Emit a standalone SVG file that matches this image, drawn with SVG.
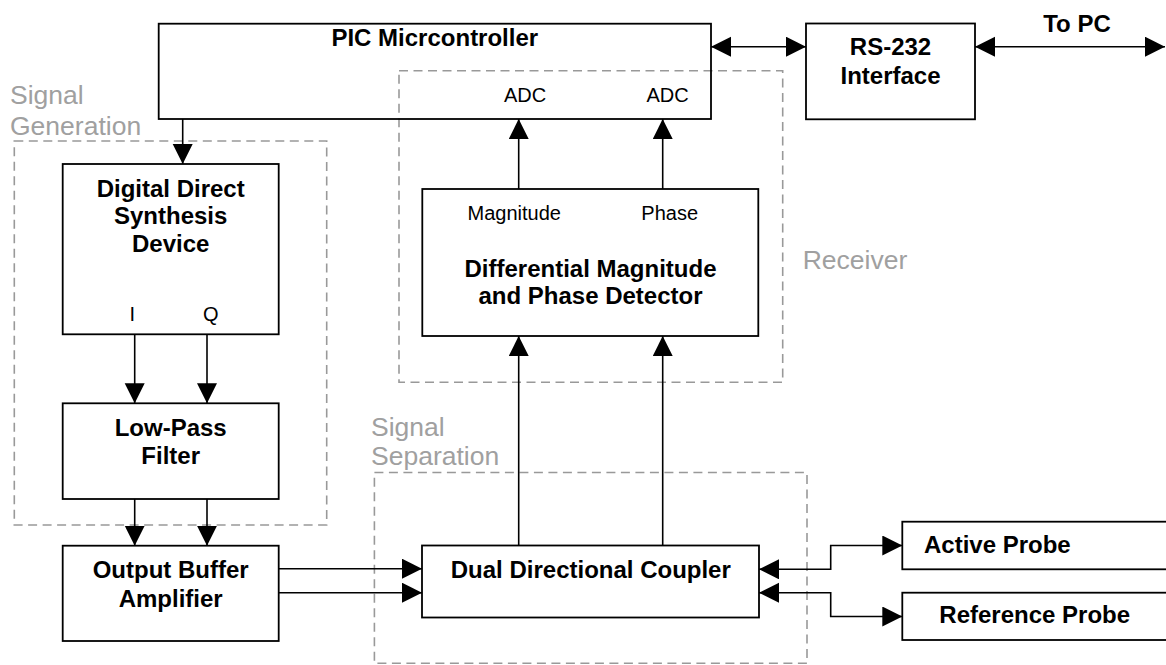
<svg xmlns="http://www.w3.org/2000/svg" width="1166" height="665" viewBox="0 0 1166 665">
  <style>
    .box { fill: none; stroke: #000; stroke-width: 1.8; }
    .region { fill: none; stroke: #999; stroke-width: 1.6; stroke-dasharray: 9 5.5; }
    .wire { fill: none; stroke: #000; stroke-width: 1.6; }
    .arrow { marker-end: url(#head); }
    .both { marker-start: url(#head); marker-end: url(#head); }
    .bold { font-family: "Liberation Sans", Arial, sans-serif; font-weight: bold; font-size: 24px; fill: #000; text-anchor: middle; }
    .bold.left { text-anchor: start; }
    .port { font-family: "Liberation Sans", Arial, sans-serif; font-size: 20px; fill: #000; text-anchor: middle; }
    .area { font-family: "Liberation Sans", Arial, sans-serif; font-size: 26.5px; fill: #a0a0a0; }
  </style>
  <defs>
    <marker id="head" markerUnits="userSpaceOnUse" markerWidth="21" markerHeight="21" refX="20" refY="10" orient="auto-start-reverse">
      <path d="M0,0 L20,10 L0,20 Z" fill="#000"/>
    </marker>
  </defs>

  <rect width="1166" height="665" fill="#fff"/>

  <!-- functional regions -->
  <g id="region-generation">
    <rect class="region" x="14.3" y="141" width="312.4" height="384"/>
    <text class="area" x="10" y="104">Signal</text>
    <text class="area" x="10" y="135">Generation</text>
  </g>
  <g id="region-receiver">
    <rect class="region" x="399" y="70.7" width="383.7" height="311.6"/>
    <text class="area" x="802.7" y="269.3">Receiver</text>
  </g>
  <g id="region-separation">
    <rect class="region" x="374.4" y="472.5" width="432.6" height="190.8"/>
    <text class="area" x="371" y="435.5">Signal</text>
    <text class="area" x="371" y="465">Separation</text>
  </g>

  <!-- connectors -->
  <g id="connectors">
    <line class="wire arrow" x1="182.7" y1="119" x2="182.7" y2="164"/>
    <line class="wire both" x1="711" y1="46.7" x2="806" y2="46.7"/>
    <line class="wire both" x1="975" y1="46.7" x2="1165" y2="46.7"/>
    <line class="wire arrow" x1="134.7" y1="334.3" x2="134.7" y2="403.3"/>
    <line class="wire arrow" x1="207" y1="334.3" x2="207" y2="403.3"/>
    <line class="wire arrow" x1="134.7" y1="499" x2="134.7" y2="545.7"/>
    <line class="wire arrow" x1="207" y1="499" x2="207" y2="545.7"/>
    <line class="wire arrow" x1="278.7" y1="568.7" x2="422" y2="568.7"/>
    <line class="wire arrow" x1="278.7" y1="592.7" x2="422" y2="592.7"/>
    <line class="wire arrow" x1="518.7" y1="545.7" x2="518.7" y2="336"/>
    <line class="wire arrow" x1="662.7" y1="545.7" x2="662.7" y2="336"/>
    <line class="wire arrow" x1="518.7" y1="189" x2="518.7" y2="119"/>
    <line class="wire arrow" x1="662.7" y1="189" x2="662.7" y2="119"/>
    <path class="wire both" d="M759,569.3 H830.7 V545.5 H902.3"/>
    <path class="wire both" d="M759,592.7 H830.7 V616.5 H902.3"/>
  </g>

  <!-- blocks -->
  <g id="pic">
    <rect class="box" x="158.7" y="23.7" width="552.3" height="95.3"/>
    <text class="bold" x="434.8" y="45.5">PIC Micrcontroller</text>
    <text class="port" x="525" y="101.5">ADC</text>
    <text class="port" x="667.5" y="101.5">ADC</text>
  </g>
  <g id="rs232">
    <rect class="box" x="806" y="23.5" width="169" height="95.8"/>
    <text class="bold" x="890.5" y="55">RS-232</text>
    <text class="bold" x="890.5" y="84">Interface</text>
  </g>
  <text class="bold" x="1077" y="31.7">To PC</text>
  <g id="dds">
    <rect class="box" x="62.7" y="164" width="216" height="170.3"/>
    <text class="bold" x="170.7" y="196.7">Digital Direct</text>
    <text class="bold" x="170.7" y="224">Synthesis</text>
    <text class="bold" x="170.7" y="251.7">Device</text>
    <text class="port" x="132.3" y="320.7">I</text>
    <text class="port" x="210.7" y="320.7">Q</text>
  </g>
  <g id="lpf">
    <rect class="box" x="62.7" y="403.3" width="216" height="95.7"/>
    <text class="bold" x="170.7" y="435.7">Low-Pass</text>
    <text class="bold" x="170.7" y="464.3">Filter</text>
  </g>
  <g id="buffer">
    <rect class="box" x="62.7" y="545.7" width="216" height="95.3"/>
    <text class="bold" x="170.7" y="577.7">Output Buffer</text>
    <text class="bold" x="170.7" y="606.7">Amplifier</text>
  </g>
  <g id="detector">
    <rect class="box" x="422.3" y="189" width="336" height="147"/>
    <text class="port" x="514.2" y="220">Magnitude</text>
    <text class="port" x="669.7" y="220">Phase</text>
    <text class="bold" x="590.5" y="276.7">Differential Magnitude</text>
    <text class="bold" x="590.5" y="304.3">and Phase Detector</text>
  </g>
  <g id="coupler">
    <rect class="box" x="422" y="545.5" width="337" height="72"/>
    <text class="bold" x="590.8" y="578.3">Dual Directional Coupler</text>
  </g>
  <g id="active-probe">
    <rect class="box" x="902.3" y="521.7" width="290" height="47.6"/>
    <text class="bold left" x="924" y="553.3">Active Probe</text>
  </g>
  <g id="reference-probe">
    <rect class="box" x="902.3" y="592.7" width="290" height="47.3"/>
    <text class="bold left" x="939.3" y="623.3">Reference Probe</text>
  </g>
</svg>
